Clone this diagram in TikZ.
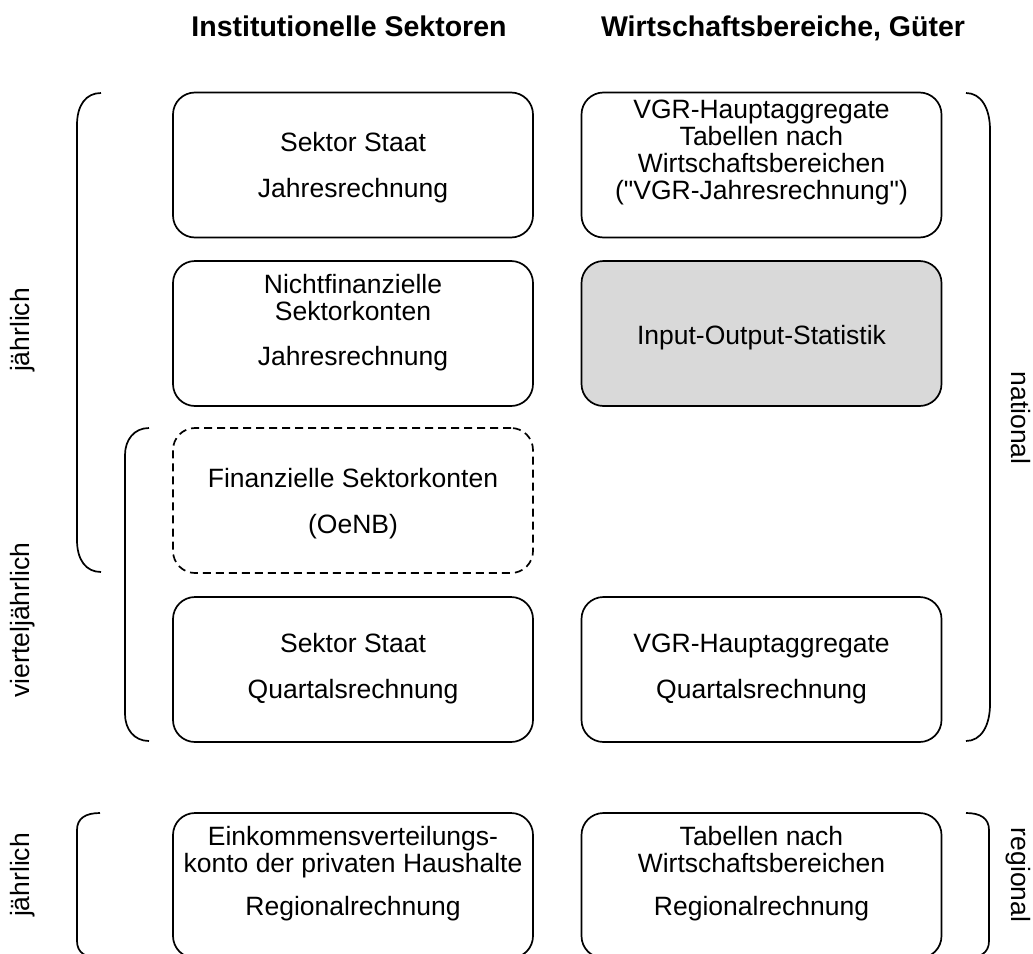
\documentclass[tikz,border=0pt]{standalone}
\usepackage{fontspec}
\setmainfont{Liberation Sans}
\definecolor{boxgray}{HTML}{D9D9D9}
\newcommand\sqmark{\XeTeXglyph\XeTeXcharglyph"22\relax}
\begin{document}
\begin{tikzpicture}[x=1pt,y=-1pt,
  box/.style={draw, line width=1.7pt, rounded corners=22pt, minimum width=360pt, minimum height=145pt, inner sep=0pt},
  dashbox/.style={box, dash pattern=on 8pt off 5pt},
  txt/.style={font=\fontsize{26.5}{27}\selectfont, anchor=base, inner sep=0pt},
  hdr/.style={font=\fontsize{28.5}{30}\selectfont\bfseries, anchor=base, inner sep=0pt},
  brk/.style={line width=1.7pt},
  lbl/.style={font=\fontsize{26.5}{27}\selectfont, anchor=base, inner sep=0pt}]
\useasboundingbox (0,0) rectangle (1033,953);
\clip (0,0) rectangle (1033,953);
% headers
\node[hdr] (hdrL) at (349,36) {Institutionelle Sektoren};
\node[hdr] (hdrR) at (783,36) {Wirtschaftsbereiche, Güter};
% boxes
\node[box] (b11) at (353,165) {};
\node[box] (b12) at (761.5,165) {};
\node[box] (b21) at (353,333.5) {};
\node[box, fill=boxgray] (b22) at (761.5,333.5) {};
\node[dashbox] (b31) at (353,500.5) {};
\node[box] (b41) at (353,669.5) {};
\node[box] (b42) at (761.5,669.5) {};
\node[box] (b51) at (353,885.5) {};
\node[box] (b52) at (761.5,885.5) {};
% texts
\node[txt] (t11a) at (353,151) {Sektor Staat};
\node[txt] (t11b) at (353,197) {Jahresrechnung};
\node[txt] (t12a) at (761.5,118) {VGR-Hauptaggregate};
\node[txt] (t12b) at (761.5,145) {Tabellen nach};
\node[txt] (t12c) at (761.5,172) {Wirtschaftsbereichen};
\node[txt] (t12d) at (761.5,199) {(\sqmark VGR-Jahresrechnung\sqmark)};
\node[txt] (t21a) at (353,293) {Nichtfinanzielle};
\node[txt] (t21b) at (353,320) {Sektorkonten};
\node[txt] (t21c) at (353,365) {Jahresrechnung};
\node[txt] (t22a) at (761.5,344) {Input-Output-Statistik};
\node[txt] (t31a) at (353,487) {Finanzielle Sektorkonten};
\node[txt] (t31b) at (353,533) {(OeNB)};
\node[txt] (t41a) at (353,652) {Sektor Staat};
\node[txt] (t41b) at (353,698) {Quartalsrechnung};
\node[txt] (t42a) at (761.5,652) {VGR-Hauptaggregate};
\node[txt] (t42b) at (761.5,698) {Quartalsrechnung};
\node[txt] (t51a) at (353,845) {Einkommensverteilungs-};
\node[txt] (t51b) at (353,872) {konto der privaten Haushalte};
\node[txt] (t51c) at (353,915) {Regionalrechnung};
\node[txt] (t52a) at (761.5,845) {Tabellen nach};
\node[txt] (t52b) at (761.5,872) {Wirtschaftsbereichen};
\node[txt] (t52c) at (761.5,915) {Regionalrechnung};
% side labels
\node[lbl, rotate=90] (lj1) at (29.5,330) {jährlich};
\node[lbl, rotate=90] (lvj) at (29.5,620) {vierteljährlich};
\node[lbl, rotate=90] (lj2) at (29.5,875) {jährlich};
\node[lbl, rotate=-90] (lnat) at (1011,418) {national};
\node[lbl, rotate=-90] (lreg) at (1011,875) {regional};
% brackets
\draw[brk] (101,93) .. controls (86,93) and (77,105) .. (77,125) -- (77,540) .. controls (77,560) and (86,572) .. (101,572);
\draw[brk] (149,428) .. controls (134,428) and (125,440) .. (125,455) -- (125,714) .. controls (125,729) and (134,741) .. (149,741);
\draw[brk] (966,93) .. controls (981,93) and (990,108) .. (990,130) -- (990,704) .. controls (990,726) and (981,741) .. (966,741);
\draw[brk] (100,813) .. controls (86,813) and (77,818) .. (77,830) -- (77,941) .. controls (77,953) and (86,958) .. (100,958);
\draw[brk] (966,813) .. controls (980,813) and (989,818) .. (989,830) -- (989,941) .. controls (989,953) and (980,958) .. (966,958);
\end{tikzpicture}
\end{document}
